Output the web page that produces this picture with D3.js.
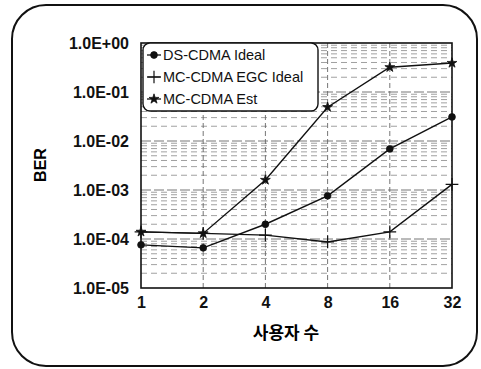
<!DOCTYPE html>
<html>
<head>
<meta charset="utf-8">
<script src="https://cdn.jsdelivr.net/npm/d3@7"></script>
<style>
  body { margin: 0; background: #fff; }
  svg { display: block; }
</style>
</head>
<body>
<svg id="chart"></svg>
<script>
// data
var users = [1, 2, 4, 8, 16, 32];
var dsIdeal = [7.6e-5, 6.6e-5, 2.0e-4, 7.6e-4, 6.9e-3, 3.1e-2];
var mcEgcIdeal = [1.4e-4, 1.3e-4, 1.2e-4, 8.7e-5, 1.4e-4, 1.3e-3];
var mcEst = [1.4e-4, 1.3e-4, 1.6e-3, 4.9e-2, 0.32, 0.39];
var yTicks = [1, 1e-1, 1e-2, 1e-3, 1e-4, 1e-5];
var yTickLabels = ["1.0E+00", "1.0E-01", "1.0E-02", "1.0E-03", "1.0E-04", "1.0E-05"];
var seriesNames = ["DS-CDMA Ideal", "MC-CDMA EGC Ideal", "MC-CDMA Est"];

var W = 481, H = 369;
var plot = { left: 141, right: 452, top: 43, bottom: 288 };

var svg = d3.select("#chart").attr("width", W).attr("height", H);

// rounded outer frame
svg.append("rect")
	.attr("x", 12).attr("y", 5)
	.attr("width", 465).attr("height", 361)
	.attr("rx", 34).attr("ry", 34)
	.attr("fill", "none").attr("stroke", "#111").attr("stroke-width", 2);

var x = d3.scaleLog().base(2)
	.domain([1, 32])
	.range([plot.left, plot.right]);

var y = d3.scaleLog()
	.domain([1e-5, 1])
	.range([plot.bottom, plot.top]);

var g = svg.append("g");

// minor horizontal grid (2..9 in every decade)
var minor = [];
for (var e = -5; e < 0; e++) {
	for (var m = 2; m <= 9; m++) minor.push(m * Math.pow(10, e));
}
g.selectAll(".hminor")
	.data(minor)
	.enter().append("line")
	.attr("x1", plot.left).attr("x2", plot.right)
	.attr("y1", function(d) { return y(d); })
	.attr("y2", function(d) { return y(d); })
	.attr("stroke", "#888").attr("stroke-width", 0.8)
	.attr("stroke-dasharray", "6,4");

g.selectAll(".hmajor")
	.data(yTicks.slice(1, 5))
	.enter().append("line")
	.attr("x1", plot.left).attr("x2", plot.right)
	.attr("y1", function(d) { return y(d); })
	.attr("y2", function(d) { return y(d); })
	.attr("stroke", "#666").attr("stroke-width", 0.9)
	.attr("stroke-dasharray", "10,3");

g.selectAll(".vgrid")
	.data(users.slice(1, 5))
	.enter().append("line")
	.attr("x1", function(d) { return x(d); })
	.attr("x2", function(d) { return x(d); })
	.attr("y1", plot.top).attr("y2", plot.bottom)
	.attr("stroke", "#666").attr("stroke-width", 0.9)
	.attr("stroke-dasharray", "5,3");

// plot frame
g.append("rect")
	.attr("x", plot.left).attr("y", plot.top)
	.attr("width", plot.right - plot.left)
	.attr("height", plot.bottom - plot.top)
	.attr("fill", "none").attr("stroke", "#111").attr("stroke-width", 1.6);

// axes
var yAxis = d3.axisLeft(y)
	.tickValues(yTicks)
	.tickSize(0)
	.tickPadding(12)
	.tickFormat(function(d, i) { return yTickLabels[i]; });

var xAxis = d3.axisBottom(x)
	.tickValues(users)
	.tickSize(0)
	.tickPadding(9)
	.tickFormat(function(d) { return d; });

var gy = svg.append("g")
	.attr("transform", "translate(" + plot.left + ",0)")
	.call(yAxis);
gy.select(".domain").remove();
gy.selectAll("text")
	.attr("font-family", "Liberation Sans, Arial, sans-serif")
	.attr("font-size", 16).attr("font-weight", "bold").attr("fill", "#111");

var gx = svg.append("g")
	.attr("transform", "translate(0," + plot.bottom + ")")
	.call(xAxis);
gx.select(".domain").remove();
gx.selectAll("text")
	.attr("font-family", "Liberation Sans, Arial, sans-serif")
	.attr("font-size", 16).attr("font-weight", "bold").attr("fill", "#111");

svg.append("text")
	.attr("transform", "translate(46,165) rotate(-90)")
	.attr("text-anchor", "middle")
	.attr("font-family", "Liberation Sans, Arial, sans-serif")
	.attr("font-size", 16).attr("font-weight", "bold")
	.text("BER");

svg.append("text")
	.attr("x", 286).attr("y", 339)
	.attr("text-anchor", "middle")
	.attr("font-family", "Noto Sans CJK KR, sans-serif")
	.attr("font-size", 17).attr("font-weight", "bold")
	.text("사용자 수");

// series
var series = [
	{ name: seriesNames[0], values: dsIdeal, symbol: d3.symbolCircle, size: 36, fill: true },
	{ name: seriesNames[1], values: mcEgcIdeal, symbol: d3.symbolPlus, size: 55, fill: false },
	{ name: seriesNames[2], values: mcEst, symbol: d3.symbolStar, size: 30, fill: true }
];

var line = d3.line()
	.x(function(d, i) { return x(users[i]); })
	.y(function(d) { return y(d); })
	.curve(d3.curveLinear);

series.forEach(function(s) {
	g.append("path")
		.datum(s.values)
		.attr("d", line)
		.attr("fill", "none")
		.attr("stroke", "#111")
		.attr("stroke-width", 1.4);

	g.selectAll(null)
		.data(s.values)
		.enter().append("path")
		.attr("transform", function(d, i) {
			return "translate(" + x(users[i]) + "," + y(d) + ")";
		})
		.attr("d", d3.symbol().type(s.symbol).size(s.size))
		.attr("fill", s.fill ? "#111" : "none")
		.attr("stroke", "#111")
		.attr("stroke-width", s.fill ? 0.8 : 1.2);
});

// legend
var lg = svg.append("g");
lg.append("rect")
	.attr("x", 143).attr("y", 43)
	.attr("width", 175).attr("height", 68)
	.attr("rx", 7)
	.attr("fill", "#fff").attr("stroke", "#111").attr("stroke-width", 1.4);

series.forEach(function(s, i) {
	var ly = 55 + i * 22;
	lg.append("line")
		.attr("x1", 147).attr("x2", 161)
		.attr("y1", ly).attr("y2", ly)
		.attr("stroke", "#111").attr("stroke-width", 1.3);
	lg.append("path")
		.attr("transform", "translate(154," + ly + ")")
		.attr("d", d3.symbol().type(s.symbol).size(s.size))
		.attr("fill", s.fill ? "#111" : "none")
		.attr("stroke", "#111")
		.attr("stroke-width", s.fill ? 0.8 : 1.2);
	lg.append("text")
		.attr("x", 163).attr("y", ly)
		.attr("dy", "0.35em")
		.attr("font-family", "Liberation Sans, Arial, sans-serif")
		.attr("font-size", 14.5)
		.attr("fill", "#111")
		.text(s.name);
});
</script>
</body>
</html>
